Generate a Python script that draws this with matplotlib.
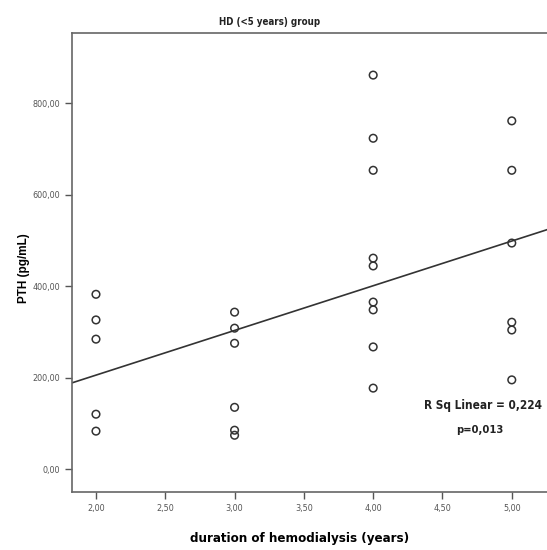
import matplotlib
matplotlib.use('Agg')
import matplotlib.pyplot as plt
import numpy as np
from matplotlib.ticker import FuncFormatter

# data
years = [2, 2, 2, 2, 2,
         3, 3, 3, 3, 3, 3,
         4, 4, 4, 4, 4, 4, 4, 4, 4,
         5, 5, 5, 5, 5, 5]
pth = [382, 326, 284, 120, 83,
       343, 308, 275, 135, 85, 74,
       861, 723, 653, 461, 444, 365, 348, 267, 177,
       761, 653, 494, 321, 304, 195]
x_ticks = [2.0, 2.5, 3.0, 3.5, 4.0, 4.5, 5.0]
y_ticks = [0, 200, 400, 600, 800]
r_sq_text = 'R Sq Linear = 0,224'
p_text = 'p=0,013'

narrow = dict(family='DejaVu Sans', stretch='condensed')
grey = '#333333'

fig = plt.figure(figsize=(5.47, 5.5), dpi=100)
ax = fig.add_axes([72/547, 1 - 492/550, 478/547, 459/550])

ax.scatter(years, pth, s=30, facecolors='none', edgecolors=grey, linewidths=1.1, zorder=3)

# linear fit line over the whole axis
xlim = (1.827, 1.827 + 478/138.6)
slope, inter = np.polyfit(years, pth, 1)
xx = np.array(xlim)
ax.plot(xx, slope*xx + inter, color=grey, lw=1.2, zorder=2)

ax.set_xlim(*xlim)
ax.set_ylim(-50, 953)
ax.set_xticks(x_ticks)
ax.set_yticks(y_ticks)
fmt = FuncFormatter(lambda v, p: f'{v:.2f}'.replace('.', ','))
ax.xaxis.set_major_formatter(fmt)
ax.yaxis.set_major_formatter(fmt)
ax.tick_params(direction='out', length=5, width=1, color='#555555', labelsize=6.5, labelcolor='#555555')
for lab in ax.get_xticklabels() + ax.get_yticklabels():
    lab.set_family('DejaVu Sans')
    lab.set_stretch('condensed')

for s in ax.spines.values():
    s.set_color('#666666')
    s.set_linewidth(1.2)
ax.spines['right'].set_visible(False)

fig.text(270/547, 1 - 22/550, 'HD (<5 years) group', ha='center', va='center',
         fontsize=7, fontweight='bold', color='#222222', **narrow)
ax.set_ylabel('PTH (pg/mL)', fontsize=8.5, fontweight='bold', family='Liberation Sans')
ax.yaxis.set_label_coords(30/547, 1 - 268/550, transform=fig.transFigure)
ax.set_xlabel('duration of hemodialysis (years)', fontsize=9.5, fontweight='bold', **narrow)
ax.xaxis.set_label_coords(300/547, 1 - 532/550, transform=fig.transFigure)

ax.text(483/547, 1 - 406/550, r_sq_text, transform=fig.transFigure, ha='center', va='center',
        fontsize=8.5, fontweight='bold', color='#222222', **narrow)
ax.text(480/547, 1 - 430/550, p_text, transform=fig.transFigure, ha='center', va='center',
        fontsize=8, fontweight='bold', color='#222222', **narrow)

fig.savefig('out.png', dpi=100)
